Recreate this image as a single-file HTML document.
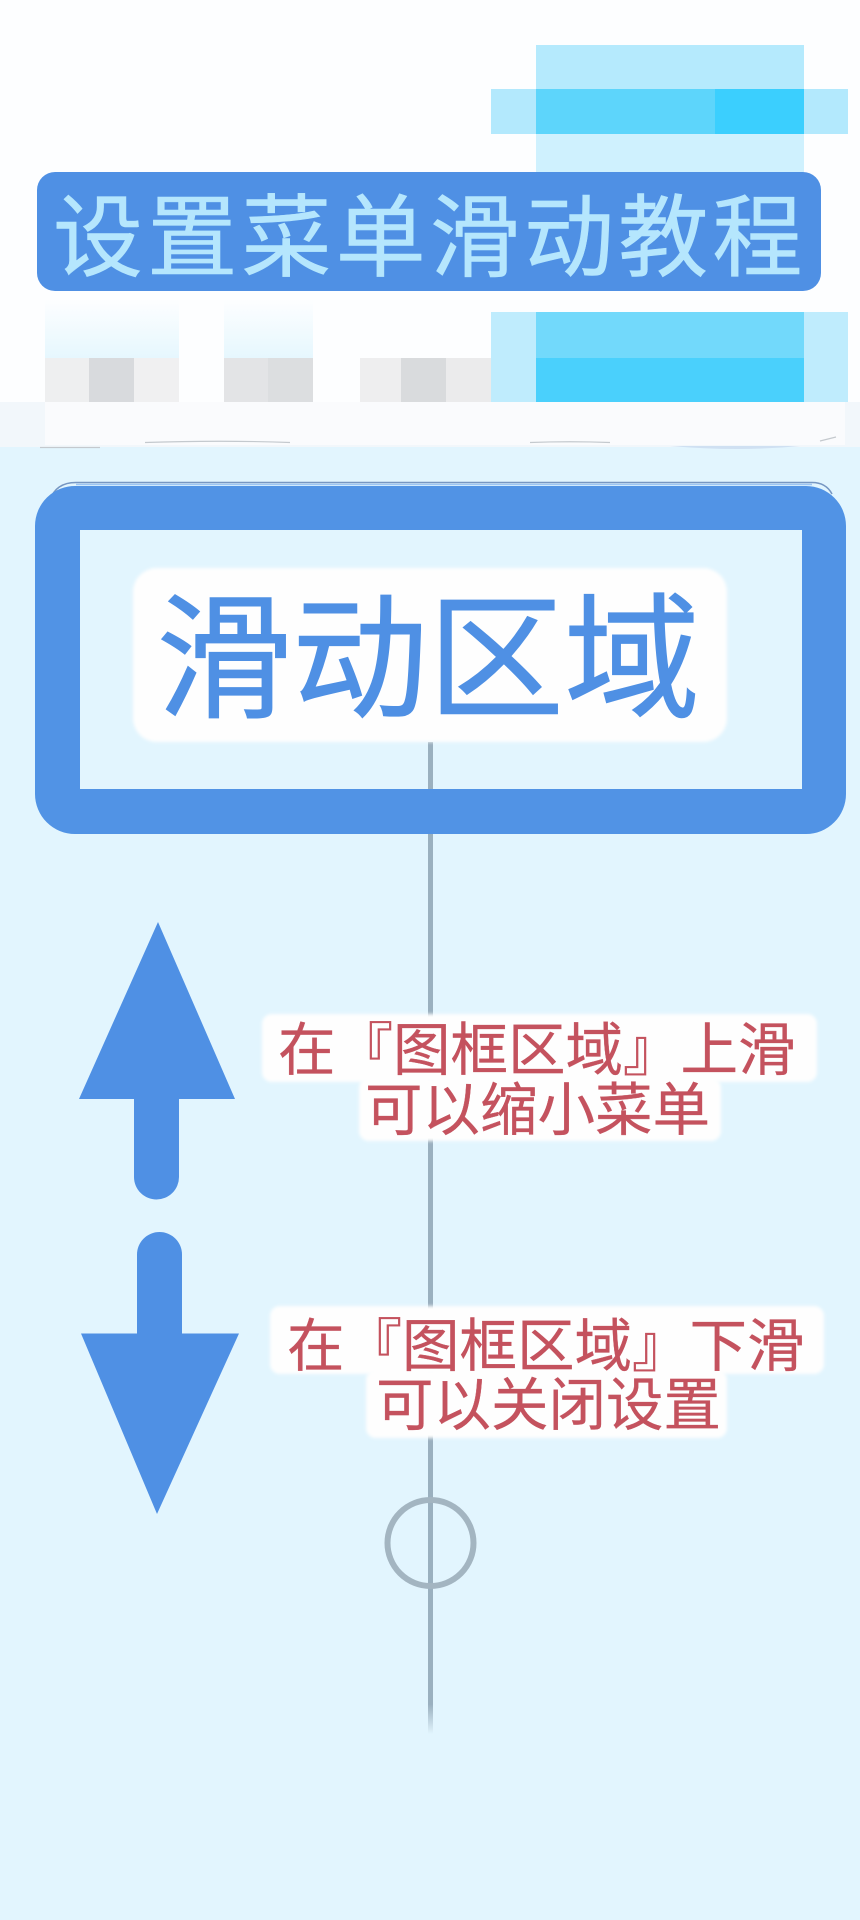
<!DOCTYPE html>
<html lang="zh"><head><meta charset="utf-8"><title>设置菜单滑动教程</title>
<style>html,body{margin:0;padding:0;background:#e2f5fe}svg{display:block}
text{font-family:"Liberation Sans","WenQuanYi Zen Hei","Noto Sans CJK SC",sans-serif}</style></head>
<body>
<svg width="860" height="1920" viewBox="0 0 860 1920" xmlns="http://www.w3.org/2000/svg">
<defs>
<linearGradient id="f" x1="0" y1="0" x2="0" y2="1"><stop offset="0" stop-color="#9ab0bf"/><stop offset=".97" stop-color="#9ab0bf"/><stop offset="1" stop-color="#9ab0bf" stop-opacity="0"/></linearGradient>
<linearGradient id="h" x1="0" y1="0" x2="0" y2="1"><stop offset="0" stop-color="#fdfeff"/><stop offset="1" stop-color="#e6f7fe"/></linearGradient>
<filter id="s" x="-5%" y="-5%" width="110%" height="110%"><feGaussianBlur stdDeviation="1.500"/></filter>
</defs>
<rect width="860" height="1920" fill="#e2f5fe"/>
<!-- header -->
<rect width="860" height="402" fill="#fdfeff"/>
<rect y="402" width="860" height="45" fill="#f2f7fb"/>
<rect x="45" y="402" width="800" height="43" fill="#fafbfd"/>
<rect x="45" y="300" width="134" height="58" fill="url(#h)"/>
<rect x="224" y="300" width="89" height="58" fill="url(#h)"/>
<!-- pixel blocks top right -->
<rect x="536" y="45" width="268" height="44" fill="#b5eafd"/>
<rect x="491" y="89" width="357" height="45" fill="#b3e9fd"/>
<rect x="536" y="89" width="268" height="45" fill="#5dd5fb"/>
<rect x="715" y="89" width="89" height="45" fill="#3bcffe"/>
<rect x="536" y="134" width="268" height="38" fill="#cff1fe"/>
<!-- pixel blocks bottom right -->
<rect x="491" y="312" width="357" height="90" fill="#bfecfd"/>
<rect x="536" y="312" width="268" height="46" fill="#72d9fb"/>
<rect x="536" y="358" width="268" height="44" fill="#4ad0fc"/>
<!-- gray pixels -->
<rect x="45" y="358" width="44" height="44" fill="#eeeff0"/>
<rect x="89" y="358" width="45" height="44" fill="#d8dadd"/>
<rect x="134" y="358" width="45" height="44" fill="#f0f0f1"/>
<rect x="224" y="358" width="44" height="44" fill="#e3e4e6"/>
<rect x="268" y="358" width="45" height="44" fill="#dcdee0"/>
<rect x="360" y="358" width="41" height="44" fill="#eeeeef"/>
<rect x="401" y="358" width="45" height="44" fill="#d9dbdd"/>
<rect x="446" y="358" width="45" height="44" fill="#ebebec"/>
<!-- torn edge marks -->
<path d="M145 442.500Q220 440 290 442.500M530 442.500Q570 441 610 442.500M40 447.500H100M820 441L836 437" fill="none" stroke="#c4c9ce" stroke-width="1.200"/>
<path d="M670 446Q740 452 800 446Z" fill="#cfe0f2"/>
<!-- title -->
<rect x="37" y="172" width="784" height="119" rx="18" fill="#4f90e4"/>
<text x="53" y="269" font-size="90" letter-spacing="4.200" fill="#b5e6fd" stroke="#b5e6fd" stroke-width=".6">设置菜单滑动教程</text>
<!-- vertical line -->
<rect x="428" y="742" width="5" height="992" fill="url(#f)"/>
<!-- frame -->
<path d="M50 500Q56 482.500 76 482.500H812Q826 482.500 832 494" fill="none" stroke="#7696c2" stroke-width="1.500"/>
<path d="M76 484.500H812" fill="none" stroke="#9cc5f3" stroke-width="1.500"/>
<path fill="#5193e5" fill-rule="evenodd" d="M76 486H806A40 40 0 0 1 846 526V794A40 40 0 0 1 806 834H75A40 40 0 0 1 35 794V526A40 40 0 0 1 76 486ZM80 530V789H802V530Z"/>
<rect x="133" y="568" width="594" height="174" rx="24" fill="#fefefe" filter="url(#s)"/>
<text x="156" y="707" font-size="136" fill="#4f90e4" stroke="#4f90e4" stroke-width="1">滑动区域</text>
<!-- arrows -->
<path fill="#4f90e4" d="M158 922L235 1099H179V1177A22.500 22.500 0 0 1 134 1177V1099H79Z"/>
<path fill="#4f90e4" d="M157 1514L239 1333.500H182V1254.500A22.500 22.500 0 0 0 137 1254.500V1333.500H81Z"/>
<!-- labels -->
<rect x="262" y="1014" width="555" height="68" rx="10" fill="#fefefe" filter="url(#s)"/>
<rect x="359" y="1078" width="362" height="63" rx="10" fill="#fefefe" filter="url(#s)"/>
<text x="278" y="1070" font-size="57.500" fill="#c4525e" stroke="#c4525e" stroke-width=".3">在『图框区域』上滑</text>
<text x="365" y="1130" font-size="57.500" fill="#c4525e" stroke="#c4525e" stroke-width=".3">可以缩小菜单</text>
<rect x="270" y="1306" width="554" height="68" rx="10" fill="#fefefe" filter="url(#s)"/>
<rect x="366" y="1370" width="361" height="68" rx="10" fill="#fefefe" filter="url(#s)"/>
<text x="287" y="1366" font-size="57.500" fill="#c4525e" stroke="#c4525e" stroke-width=".3">在『图框区域』下滑</text>
<text x="376" y="1425" font-size="57.500" fill="#c4525e" stroke="#c4525e" stroke-width=".3">可以关闭设置</text>
<!-- circle -->
<circle cx="430.500" cy="1543" r="43" fill="none" stroke="#a3b5c1" stroke-width="6"/>
</svg>
</body></html>
